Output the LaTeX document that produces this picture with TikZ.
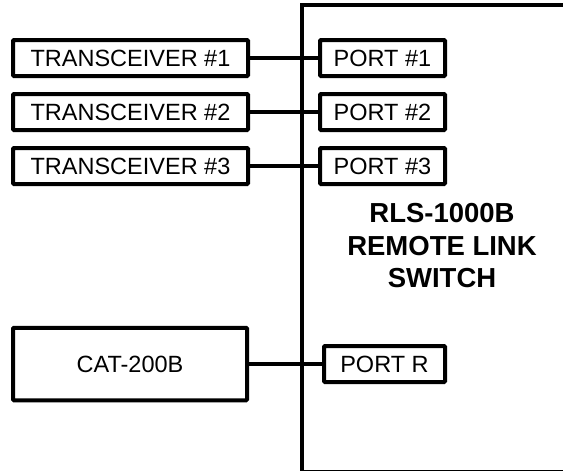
\documentclass[tikz,border=0pt]{standalone}
\usepackage{fontspec}
\setmainfont{Liberation Sans}
\begin{document}
\begin{tikzpicture}[x=1pt,y=-1pt,
  box/.style={draw=black,line width=4pt,rounded corners=1pt,inner sep=0pt,
    font=\fontsize{23.5}{27}\selectfont},
  trbox/.style={box,minimum width=235pt,minimum height=36pt},
  portbox/.style={box,minimum width=125pt,minimum height=36pt},
  wire/.style={line width=3.8pt}]
\useasboundingbox (0,0) rectangle (563,471);
\clip (0,0) rectangle (563,471);
% switch enclosure
\draw[line width=4pt] (302,4.5) rectangle (640,471.5);
\node[font=\bfseries\fontsize{27.5}{32.5}\selectfont,align=center] (title) at (442,246)
  {RLS-1000B\\REMOTE LINK\\SWITCH};
% transceivers
\node[trbox] (t1) at (130.5,58) {TRANSCEIVER \#1};
\node[trbox] (t2) at (130.5,112) {TRANSCEIVER \#2};
\node[trbox] (t3) at (130.5,166) {TRANSCEIVER \#3};
\node[portbox] (p1) at (382.5,58) {PORT \#1};
\node[portbox] (p2) at (382.5,112) {PORT \#2};
\node[portbox] (p3) at (382.5,166) {PORT \#3};
\node[box,minimum width=234pt,minimum height=72.5pt] (cat) at (130,364) {CAT-200B};
\node[box,minimum width=121pt,minimum height=36pt] (pr) at (384.5,364) {PORT R};
\draw[wire] (t1.east) -- (p1.west);
\draw[wire] (t2.east) -- (p2.west);
\draw[wire] (t3.east) -- (p3.west);
\draw[wire] (cat.east) -- (pr.west);
\end{tikzpicture}
\end{document}
